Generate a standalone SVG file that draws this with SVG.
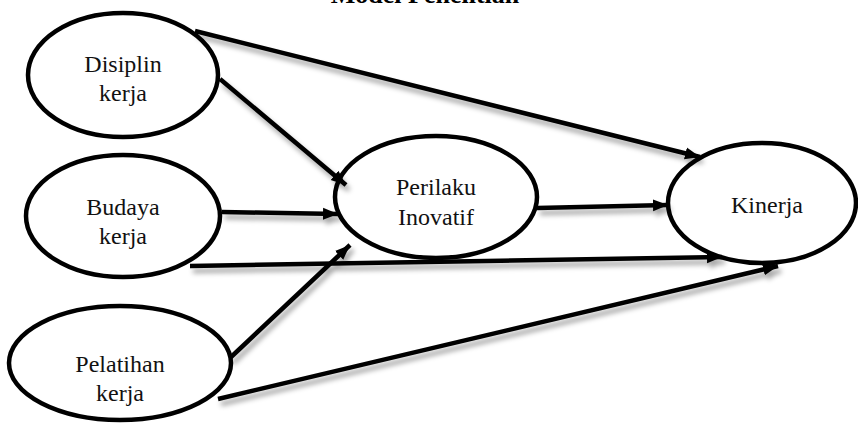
<svg xmlns="http://www.w3.org/2000/svg" width="858" height="423" viewBox="0 0 858 423">
<style>
.node ellipse{fill:#fff;stroke:#000;stroke-width:4.5}
.lbl{font-family:"Liberation Serif","Times New Roman",serif;font-size:24px;fill:#111;text-anchor:middle}
.title{font-family:"Liberation Serif","Times New Roman",serif;font-size:26px;font-weight:bold;fill:#000;text-anchor:middle}
.edge{stroke:#000;stroke-width:4.5;fill:none;marker-end:url(#arr)}
</style>
<defs>
<marker id="arr" markerUnits="userSpaceOnUse" markerWidth="18" markerHeight="14" refX="15" refY="7" orient="auto">
<path d="M0,1 L15,7 L0,13 Z" fill="#000"/>
</marker>
<filter id="sh" x="-10%" y="-50%" width="120%" height="200%">
<feDropShadow dx="3" dy="5" stdDeviation="2.5" flood-color="#000" flood-opacity="0.35"/>
</filter>
</defs>
<text class="title" x="425" y="3">Model Penelitian</text>
<g id="n-disiplin" class="node"><ellipse cx="123" cy="75" rx="95" ry="62"/><text class="lbl" x="123" y="72">Disiplin</text><text class="lbl" x="123" y="101">kerja</text></g>
<g id="n-budaya" class="node"><ellipse cx="123" cy="216" rx="97" ry="61"/><text class="lbl" x="123" y="215">Budaya</text><text class="lbl" x="123" y="244">kerja</text></g>
<g id="n-pelatihan" class="node"><ellipse cx="120" cy="363" rx="111" ry="57"/><text class="lbl" x="120" y="372">Pelatihan</text><text class="lbl" x="120" y="401">kerja</text></g>
<g id="n-perilaku" class="node"><ellipse cx="436" cy="197" rx="101" ry="61"/><text class="lbl" x="436" y="195">Perilaku</text><text class="lbl" x="436" y="225">Inovatif</text></g>
<g id="n-kinerja" class="node"><ellipse cx="762" cy="203" rx="94" ry="60"/><text class="lbl" x="767" y="213">Kinerja</text></g>
<g id="connectors" filter="url(#sh)">
<line class="edge" x1="195" y1="31" x2="700" y2="157"/>
<line class="edge" x1="220" y1="79" x2="346" y2="185"/>
<line class="edge" x1="222" y1="212" x2="338" y2="214"/>
<line class="edge" x1="190" y1="266" x2="722" y2="257"/>
<line class="edge" x1="230" y1="358" x2="350" y2="245"/>
<line class="edge" x1="218" y1="399" x2="778" y2="266"/>
<line class="edge" x1="537" y1="208" x2="668" y2="205"/>
</g>
</svg>
